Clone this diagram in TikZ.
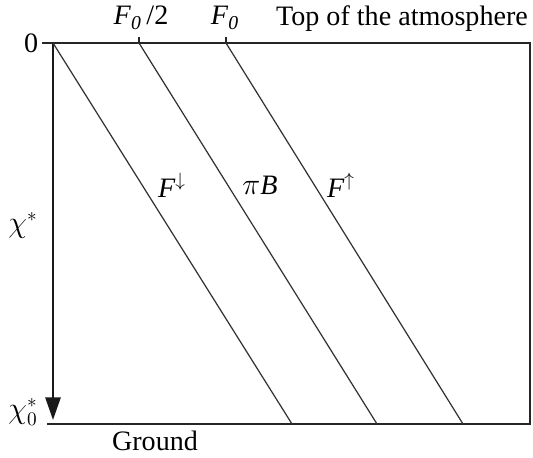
\documentclass[tikz,border=0pt]{standalone}
\usepackage{fontspec}
\setmainfont{Liberation Serif}
\usetikzlibrary{arrows.meta,positioning}
\tikzset{
  frame/.style={line width=0.8pt, draw=black!85},
  flux/.style={line width=0.7pt, draw=black!80},
  depth/.style={-{Triangle[length=4.5mm, width=3mm]}, line width=1.4pt, draw=black!90},
  lbl/.style={font=\fontsize{16}{19}\selectfont, inner sep=1pt},
}
\begin{document}
\begin{tikzpicture}
\useasboundingbox (0,0) rectangle (10.66,9.16);

% ============================ box corners ==============================
\coordinate (tl) at (1.06,8.30);
\coordinate (tr) at (10.60,8.30);
\coordinate (br) at (10.60,0.68);
\coordinate (bl) at (1.06,0.68);
\coordinate (tlx) at (0.84,8.30);
\coordinate (blx) at (0.94,0.68);
\coordinate (ax) at (1.06,0.76);

% ============================ flux lines ===============================
\coordinate (t1) at (1.06,8.30);  \coordinate (b1) at (5.84,0.68);
\coordinate (t2) at (2.78,8.30);  \coordinate (b2) at (7.54,0.68);
\coordinate (t3) at (4.52,8.30);  \coordinate (b3) at (9.26,0.68);

\draw[frame] (tlx) -- (tr) -- (br) -- (blx);
\draw[depth] (tl) -- (ax);
\foreach \i in {1,2,3} {
  \draw[flux] (t\i) -- (b\i);
}
\draw[frame] (t2) -- ++(0,0.12);
\draw[frame] (t3) -- ++(0,0.12);

% ============================ labels ===================================
\node[lbl, left=1pt of tlx] (zero) {0};
\node[lbl] (chi) at (0.46,4.66) {$\chi^*$};
\node[lbl] (chio) at (0.46,0.92) {$\chi_0^*$};
\node[lbl] (ground) at (3.10,0.34) {Ground};
\node[lbl] (half) at (2.82,8.80) {\textit{F}\textsubscript{\textit{0}}\,/2};
\node[lbl] (full) at (4.50,8.80) {\textit{F}\textsubscript{\textit{0}}};
\node[lbl] (toa) at (8.04,8.78) {Top of the atmosphere};
\node[lbl] (fdn) at (3.44,5.46) {\textit{F}$^{\downarrow}$};
\node[lbl] (pib) at (5.20,5.46) {$\pi$\textit{B}};
\node[lbl] (fup) at (6.82,5.46) {\textit{F}$^{\uparrow}$};

\end{tikzpicture}
\end{document}
